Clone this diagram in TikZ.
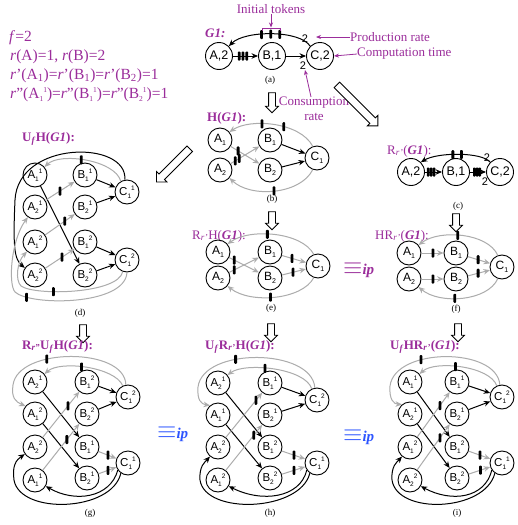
\documentclass[tikz,border=0pt]{standalone}
\usepackage{fontspec}
\setmainfont{Liberation Serif}
\setsansfont{Liberation Sans}
\usetikzlibrary{arrows.meta,shapes.arrows}
\definecolor{purp}{RGB}{155,45,155}
\definecolor{lgray}{RGB}{172,172,172}
\definecolor{eqblue}{RGB}{45,85,255}
\newcommand\nsb[2]{#1\raisebox{-0.4ex}{\fontsize{7}{7}\selectfont #2}}
\newcommand\nsp[3]{#1\raisebox{-0.4ex}{\fontsize{6.5}{6.5}\selectfont #2}\raisebox{0.9ex}{\fontsize{6.5}{6.5}\selectfont #3}}
\newcommand\gbi{\textbf{\textit{G1}}}
\newcommand\tsbp[2]{\raisebox{-3pt}{\fontsize{7.5}{7.5}\selectfont #1}\raisebox{5.8pt}{\fontsize{7.5}{7.5}\selectfont #2}}
\begin{document}
\begin{tikzpicture}[x=1pt,y=-1pt,
 nd/.style={circle,draw,line width=0.9pt,minimum size=24pt,inner sep=0pt,font=\sffamily\fontsize{12}{12}\selectfont},
 ndu/.style={nd,font=\sffamily\fontsize{11.5}{11.5}\selectfont},
 bnd/.style={nd,minimum size=27pt,font=\sffamily\fontsize{12.5}{12.5}\selectfont},
 blk/.style={draw=black,line width=1pt,-{Stealth[length=6.5pt,width=5.5pt]}},
 gry/.style={draw=lgray,line width=1pt,-{Stealth[length=6.5pt,width=5.5pt]}},
 tok/.style={rectangle,fill=black,draw=none,minimum width=2.8pt,minimum height=9pt,inner sep=0pt,rounded corners=0.9pt},
 ttl/.style={text=purp,anchor=base west,font=\fontsize{13}{13}\selectfont,inner sep=0pt},
 ttlb/.style={ttl,font=\bfseries\fontsize{13}{13}\selectfont},
 lft/.style={text=purp,anchor=base west,font=\fontsize{15.5}{15.5}\selectfont,inner sep=0pt},
 capt/.style={font=\fontsize{9}{9}\selectfont,inner sep=0pt},
 ann/.style={text=purp,font=\fontsize{13}{15}\selectfont,inner sep=0pt},
 pl/.style={draw=purp,line width=0.8pt,-{Stealth[length=5pt,width=4pt]}},
 rate/.style={font=\sffamily\fontsize{11}{11}\selectfont,inner sep=0pt},
 harrow/.style={single arrow,draw,fill=white,line width=0.8pt,inner sep=3pt,single arrow head extend=3pt,minimum height=18pt,anchor=center},
 eqv/.style={inner sep=0pt,anchor=base west,font=\fontsize{24}{24}\selectfont},
]
\fill[white] (0,0) rectangle (517,525);
\path[use as bounding box] (0,0) rectangle (517,525);

% ---------- left text ----------
\node[lft] (f1) at (9,41) {\textit{f}=2};
\node[lft] (f2) at (10,60) {\textit{r}(A)=1, \textit{r}(B)=2};
\node[lft] (f3) at (10,79) {\textit{r}'(A\textsubscript{1})=\textit{r}'(B\textsubscript{1})=\textit{r}'(B\textsubscript{2})=1};
\node[lft] (f4) at (10,98) {\textit{r}"(A\tsbp{1}{1})=\textit{r}"(B\tsbp{1}{1})=\textit{r}"(B\tsbp{2}{1})=1};

% ---------- (a) ----------
\node[ttl,font=\bfseries\itshape\fontsize{13}{13}\selectfont] (ta) at (205,37) {G1:};
\node[bnd] (aA) at (219,56) {A,2};
\node[bnd] (aB) at (272,56) {B,1};
\node[bnd] (aC) at (320,56) {C,2};
\draw[blk] (aA) -- node[tok,pos=.25](at1){} node[tok,pos=.4](at2){} node[tok,pos=.55](at3){} (aB);
\draw[blk] (aB) -- (aC);
\draw[blk] (aC.135) .. controls (300,30) and (245,30) .. (aA.45) node[tok,pos=.42](at4){} node[tok,pos=.51](at5){} node[tok,pos=.6](at6){};
\node[rate] (a2t) at (305,39) {2};
\node[rate] (a2b) at (303,66) {2};
\node[capt] (ca) at (270,80) {(a)};
\node[ann] (it) at (271,9) {Initial tokens};
\coordinate (itb) at (271,27.5);
\draw[purp,line width=0.8pt] (262,31) -- (262,28) -- (280,28) -- (280,31);
\draw[pl] (it.south) -- (itb);
\node[ann,anchor=west] (pr) at (350,37) {Production rate};
\coordinate (prt) at (316,37);
\draw[pl] (pr.west) -- (prt);
\node[ann,anchor=west] (ct) at (357,54) {Computation time};
\draw[pl] (ct.west) -- (aC.east);
\node[ann,align=center] (cr) at (314,109) {Consumption\\rate};
\coordinate (crt) at (305,70);
\draw[pl] ([xshift=-3pt]cr.north) -- (crt);

% ---------- hollow arrows ----------
\node[harrow,rotate=-90,minimum height=20pt] (ha1) at (272,101) {};
\node[harrow,rotate=-45,minimum height=58pt,inner sep=3.5pt,single arrow head extend=3.5pt] (ha2) at (356,104) {};
\node[harrow,rotate=-135,minimum height=47pt,inner sep=3.5pt,single arrow head extend=3.5pt] (ha3) at (174.5,164) {};
\node[harrow,rotate=-90] (ha4) at (272,219) {};
\node[harrow,rotate=-90] (ha5) at (456,221) {};
\node[harrow,rotate=-90] (ha6) at (83,332) {};
\node[harrow,rotate=-90] (ha7) at (271,331) {};
\node[harrow,rotate=-90] (ha8) at (458,331) {};

% ---------- (b) ----------
\node[ttlb] (tb) at (207,121) {H(\textit{G1}):};
\node[nd] (bA1) at (220,140) {\nsb{A}{1}};
\node[nd] (bA2) at (220,170) {\nsb{A}{2}};
\node[nd] (bB1) at (270,140) {\nsb{B}{1}};
\node[nd] (bB2) at (270,170) {\nsb{B}{2}};
\node[nd] (bC1) at (317,158) {\nsb{C}{1}};
\draw[gry] (bA1) -- node[tok,pos=.26](bt1){} (bB2);
\draw[gry] (bA2) -- node[tok,pos=.16](bt2){} node[tok,pos=.3](bt3){} (bB1);
\draw[blk] (bB1) -- (bC1);
\draw[blk] (bB2) -- (bC1);
\draw[gry] (bC1.110) .. controls (300,122) and (250,118) .. (bA1.40) node[tok,pos=.4](bt4){} node[tok,pos=.62](bt5){};
\draw[gry] (bC1.250) .. controls (300,195) and (250,198) .. (bA2.-40) node[tok,pos=.5](bt6){};
\node[capt] (cb) at (272,199) {(b)};

% ---------- (c) ----------
\node[ttl] (tc) at (387,154) {R\textsubscript{\textit{r'}}(\gbi):};
\node[bnd] (cA) at (411,172) {A,2};
\node[bnd] (cB) at (456,172) {B,1};
\node[bnd] (cC) at (500,172) {C,2};
\draw[blk] (cA) -- node[tok,pos=.19](ct1){} node[tok,pos=.36](ct2){} node[tok,pos=.53](ct3){} (cB);
\draw[blk] (cB) -- node[tok,pos=.28](ct4){} node[tok,pos=.44](ct5){} node[tok,pos=.6](ct6){} (cC);
\draw[blk] (cC.135) .. controls (482,152) and (438,152) .. (cA.45) node[tok,pos=.47](ct7){} node[tok,pos=.57](ct8){};
\node[rate] (c2t) at (487,158) {2};
\node[rate] (c2b) at (485,182) {2};
\node[capt] (cc) at (458,206) {(c)};

% ---------- (d) ----------
\node[ttlb] (td) at (22,141) {U\textsubscript{\textit{f}}H(\textit{G1}):};
\node[ndu] (dA11) at (35,175) {\nsp{A}{1}{1}};
\node[ndu] (dA21) at (35,207) {\nsp{A}{2}{1}};
\node[ndu] (dA12) at (35,242) {\nsp{A}{1}{2}};
\node[ndu] (dA22) at (35,275) {\nsp{A}{2}{2}};
\node[ndu] (dB11) at (85,175) {\nsp{B}{1}{1}};
\node[ndu] (dB21) at (85,207) {\nsp{B}{2}{1}};
\node[ndu] (dB12) at (85,242) {\nsp{B}{1}{2}};
\node[ndu] (dB22) at (85,275) {\nsp{B}{2}{2}};
\node[ndu] (dC11) at (127,192) {\nsp{C}{1}{1}};
\node[ndu] (dC12) at (127,260) {\nsp{C}{1}{2}};
\draw[blk] (dB11) -- (dC11);
\draw[blk] (dB21) -- (dC11);
\draw[blk] (dB12) -- (dC12);
\draw[blk] (dB22) -- (dC12);
\draw[blk] (dA11) -- (dB22);
\draw[gry] (dA21) -- node[tok,pos=.5](dt1){} (dB11);
\draw[gry] (dA12) -- node[tok,pos=.66](dt2){} (dB21);
\draw[gry] (dA22) -- node[tok,pos=.57](dt3){} (dB12);
\draw[gry] (dC11.120) .. controls (115,160) and (60,152) .. (dA11.40) node[tok,pos=.55](dt4){};
\draw[blk] (dC11.100) .. controls (128,140) and (18,140) .. (15,200) .. controls (13,245) and (14,259) .. (dA22.145);
\draw[gry] (dC12.250) .. controls (118,294) and (35,296) .. (21,286) node[tok,pos=.66](dt5){} .. controls (15,280) and (17,262) .. (dA12.230);
\draw[gry] (dC12.270) .. controls (125,306) and (30,306) .. (15,292) node[tok,pos=.85](dt6){} .. controls (8,284) and (11,240) .. (dA21.235);
\node[capt] (cd) at (80,313) {(d)};

% ---------- (e) ----------
\node[ttl] (te) at (192,239) {R\textsubscript{\textit{r'}}H(\gbi):};
\node[nd] (eA1) at (218,252) {\nsb{A}{1}};
\node[nd] (eA2) at (218,278) {\nsb{A}{2}};
\node[nd] (eB1) at (270,252) {\nsb{B}{1}};
\node[nd] (eB2) at (270,278) {\nsb{B}{2}};
\node[nd] (eC1) at (318,266) {\nsb{C}{1}};
\draw[gry] (eA1) -- node[tok,pos=.17](et1){} (eB2);
\draw[gry] (eA2) -- node[tok,pos=.17](et2){} (eB1);
\draw[gry] (eB1) -- node[tok,pos=.42](et3){} (eC1);
\draw[gry] (eB2) -- node[tok,pos=.46](et4){} (eC1);
\draw[gry] (eC1.110) .. controls (302,232) and (250,228) .. (eA1.40) node[tok,pos=.57](et5){};
\draw[gry] (eC1.250) .. controls (302,300) and (250,304) .. (eA2.-40) node[tok,pos=.54](et6){};
\node[capt] (ce) at (271,308) {(e)};
\node[eqv,text=purp] (eq1) at (343,274) {$\equiv$\fontsize{15}{15}\selectfont\textbf{\textit{ip}}};

% ---------- (f) ----------
\node[ttl] (tf) at (375,239) {HR\textsubscript{\textit{r'}}(\gbi):};
\node[nd] (fA1) at (409,253) {\nsb{A}{1}};
\node[nd] (fA2) at (409,279) {\nsb{A}{2}};
\node[nd] (fB1) at (456,253) {\nsb{B}{1}};
\node[nd] (fB2) at (456,279) {\nsb{B}{2}};
\node[nd] (fC1) at (502,267) {\nsb{C}{1}};
\draw[gry] (fA1) -- node[tok,pos=.52](ft1){} (fB1);
\draw[gry] (fA2) -- node[tok,pos=.52](ft2){} (fB2);
\draw[gry] (fB1) -- node[tok,pos=.46](ft3){} (fC1);
\draw[gry] (fB2) -- node[tok,pos=.46](ft4){} (fC1);
\draw[gry] (fC1.110) .. controls (488,233) and (440,229) .. (fA1.40) node[tok,pos=.55](ft5){};
\draw[gry] (fC1.250) .. controls (488,301) and (440,305) .. (fA2.-40) node[tok,pos=.58](ft6){};
\node[capt] (cf) at (456,309) {(f)};

% ---------- (g) ----------
\node[ttlb] (tg) at (22,349) {R\textsubscript{\textit{r''}}U\textsubscript{\textit{f}}H(\textit{G1}):};
\node[ndu] (gA21) at (35,382) {\nsp{A}{2}{1}};
\node[ndu] (gA12) at (35,414) {\nsp{A}{1}{2}};
\node[ndu] (gA22) at (35,447) {\nsp{A}{2}{2}};
\node[ndu] (gA11) at (35,480) {\nsp{A}{1}{1}};
\node[ndu] (gB12) at (87,382) {\nsp{B}{1}{2}};
\node[ndu] (gB22) at (87,414) {\nsp{B}{2}{2}};
\node[ndu] (gB11) at (87,447) {\nsp{B}{1}{1}};
\node[ndu] (gB21) at (87,478) {\nsp{B}{2}{1}};
\node[ndu] (gC12) at (128,397) {\nsp{C}{1}{2}};
\node[ndu] (gC11) at (128,463) {\nsp{C}{1}{1}};
\draw[blk] (gB12) -- (gC12);
\draw[blk] (gB22) -- (gC12);
\draw[gry] (gB11) -- node[tok,pos=.53](gt1){} (gC11);
\draw[gry] (gB21) -- node[tok,pos=.53](gt2){} (gC11);
\draw[blk] (gA21) -- (gB11);
\draw[blk] (gA12) -- (gB21);
\draw[gry] (gA22) -- node[tok,pos=.69](gt3){} (gB12);
\draw[gry] (gA11) -- node[tok,pos=.66](gt4){} (gB22);
\draw[gry] (gC12.115) .. controls (115,367) and (60,360) .. (gA21.40) node[tok,pos=.55](gt5){};
\draw[gry] (gC12.100) .. controls (125,347) and (18,347) .. (13,385) node[tok,pos=.65](gt6){} .. controls (11,398) and (16,402) .. (gA12.140);
\draw[blk] (gC11.235) .. controls (112,512) and (20,515) .. (14,480) .. controls (12,466) and (16,460) .. (gA22.215);
\draw[blk] (gC11.215) .. controls (110,498) and (75,503) .. (gA11.-30);
\node[capt] (cg) at (90,513) {(g)};
\node[eqv,text=eqblue] (eq2) at (157,438) {$\equiv$\fontsize{15}{15}\selectfont\textbf{\textit{ip}}};

% ---------- (h) ----------
\node[ttlb] (th) at (205,349) {U\textsubscript{\textit{f}}R\textsubscript{\textit{r'}}H(\textit{G1}):};
\node[ndu] (hA21) at (218,383) {\nsp{A}{2}{1}};
\node[ndu] (hA11) at (218,415) {\nsp{A}{1}{1}};
\node[ndu] (hA22) at (218,447) {\nsp{A}{2}{2}};
\node[ndu] (hA12) at (218,480) {\nsp{A}{1}{2}};
\node[ndu] (hB11) at (270,383) {\nsp{B}{1}{1}};
\node[ndu] (hB21) at (270,415) {\nsp{B}{2}{1}};
\node[ndu] (hB12) at (270,447) {\nsp{B}{1}{2}};
\node[ndu] (hB22) at (270,478) {\nsp{B}{2}{2}};
\node[ndu] (hC12) at (317,400) {\nsp{C}{1}{2}};
\node[ndu] (hC11) at (317,463) {\nsp{C}{1}{1}};
\draw[blk] (hB11) -- (hC12);
\draw[blk] (hB21) -- (hC12);
\draw[gry] (hB12) -- node[tok,pos=.52](ht1){} (hC11);
\draw[gry] (hB22) -- node[tok,pos=.52](ht2){} (hC11);
\draw[blk] (hA21) -- (hB12);
\draw[blk] (hA11) -- (hB22);
\draw[gry] (hA22) -- node[tok,pos=.83](ht3){} (hB11);
\draw[gry] (hA12) -- node[tok,pos=.77](ht4){} (hB21);
\draw[gry] (hC12.115) .. controls (305,368) and (245,362) .. (hA21.40) node[tok,pos=.58](ht5){};
\draw[gry] (hC12.100) .. controls (312,348) and (203,347) .. (198,387) node[tok,pos=.63](ht6){} .. controls (197,400) and (201,404) .. (hA11.130);
\draw[blk] (hC11.235) .. controls (300,512) and (205,515) .. (200,480) .. controls (199,466) and (205,462) .. (hA22.230);
\draw[blk] (hC11.215) .. controls (300,498) and (262,503) .. (hA12.-30);
\node[capt] (ch) at (270,513) {(h)};
\node[eqv,text=eqblue] (eq3) at (343,441) {$\equiv$\fontsize{15}{15}\selectfont\textbf{\textit{ip}}};

% ---------- (i) ----------
\node[ttlb] (ti) at (390,349) {U\textsubscript{\textit{f}}HR\textsubscript{\textit{r'}}(\textit{G1}):};
\node[ndu] (iA11) at (410,382) {\nsp{A}{1}{1}};
\node[ndu] (iA21) at (410,414) {\nsp{A}{2}{1}};
\node[ndu] (iA12) at (410,447) {\nsp{A}{1}{2}};
\node[ndu] (iA22) at (410,480) {\nsp{A}{2}{2}};
\node[ndu] (iB11) at (457,382) {\nsp{B}{1}{1}};
\node[ndu] (iB21) at (457,414) {\nsp{B}{2}{1}};
\node[ndu] (iB12) at (457,447) {\nsp{B}{1}{2}};
\node[ndu] (iB22) at (457,478) {\nsp{B}{2}{2}};
\node[ndu] (iC12) at (502,397) {\nsp{C}{1}{2}};
\node[ndu] (iC11) at (502,463) {\nsp{C}{1}{1}};
\draw[blk] (iB11) -- (iC12);
\draw[blk] (iB21) -- (iC12);
\draw[gry] (iB12) -- node[tok,pos=.52](it1){} (iC11);
\draw[gry] (iB22) -- node[tok,pos=.55](it2){} (iC11);
\draw[blk] (iA11) -- (iB12);
\draw[blk] (iA21) -- (iB22);
\draw[gry] (iA12) -- node[tok,pos=.7](it3){} (iB11);
\draw[gry] (iA22) -- node[tok,pos=.7](it4){} (iB21);
\draw[gry] (iC12.115) .. controls (490,366) and (435,360) .. (iA11.40) node[tok,pos=.56](it5){};
\draw[gry] (iC12.100) .. controls (497,347) and (395,347) .. (390,386) node[tok,pos=.66](it6){} .. controls (389,400) and (394,404) .. (iA21.130);
\draw[blk] (iC11.235) .. controls (485,512) and (397,515) .. (392,480) .. controls (391,466) and (397,462) .. (iA12.230);
\draw[blk] (iC11.215) .. controls (485,498) and (452,503) .. (iA22.-30);
\node[capt] (ci) at (457,513) {(i)};
\end{tikzpicture}
\end{document}
